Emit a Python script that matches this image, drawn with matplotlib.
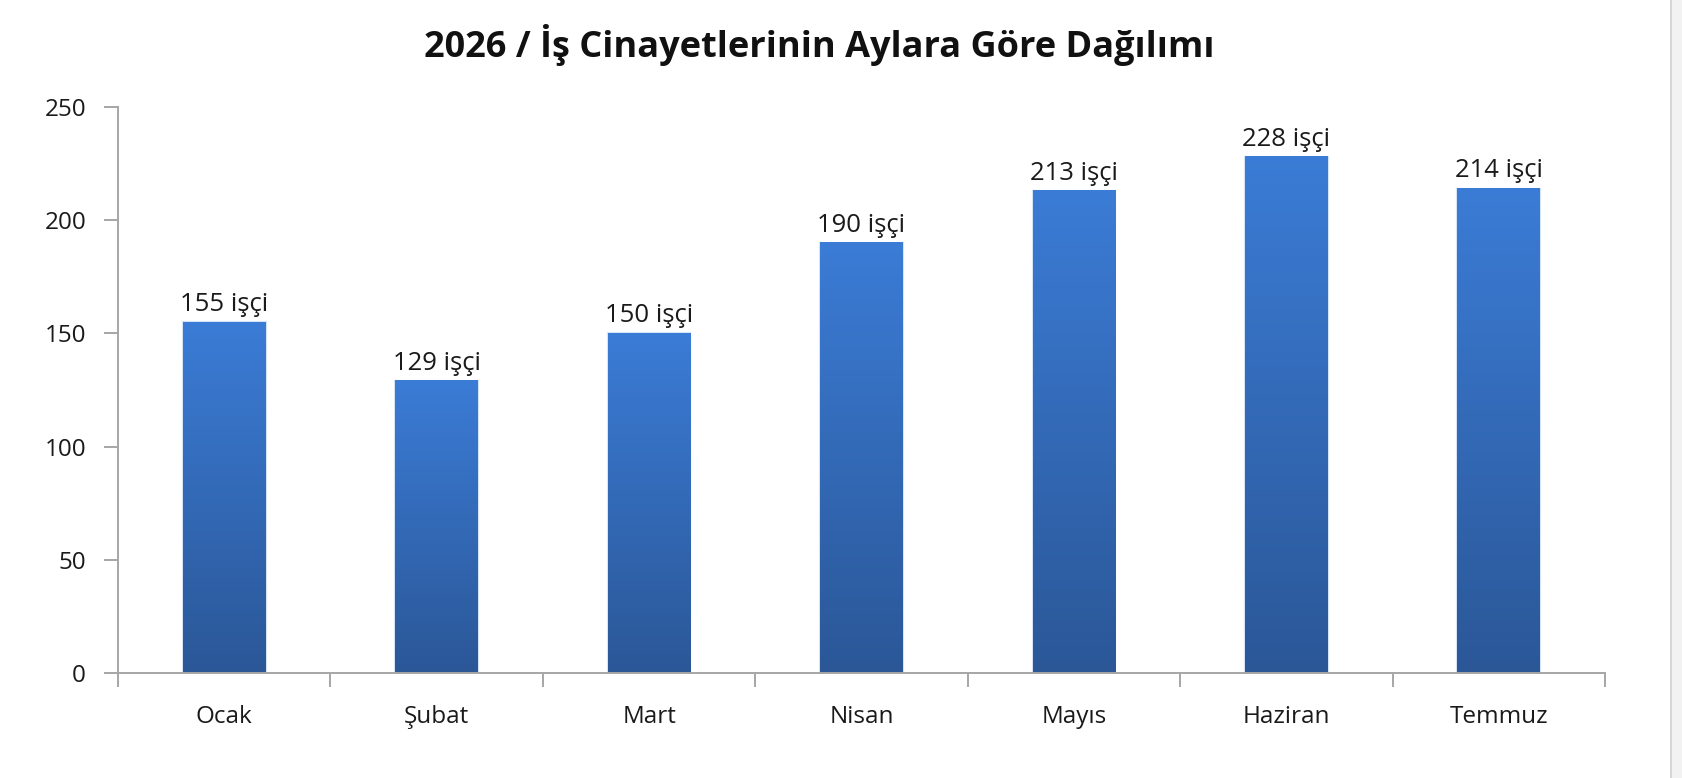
import numpy as np
import matplotlib
matplotlib.use("Agg")
import matplotlib.pyplot as plt
from matplotlib.colors import LinearSegmentedColormap
from matplotlib.lines import Line2D
from matplotlib.patches import Rectangle

plt.rcParams['font.family'] = ['Open Sans', 'DejaVu Sans']

# data
months = ["Ocak", "Şubat", "Mart", "Nisan", "Mayıs", "Haziran", "Temmuz"]
deaths = [155, 129, 150, 190, 213, 228, 214]
title = "2026 / İş Cinayetlerinin Aylara Göre Dağılımı"
unit = "işçi"

AXIS_GRAY = "#a6a6a6"
bar_cmap = LinearSegmentedColormap.from_list("bar", ["#2b5797", "#3b7cd6"])

fig = plt.figure(figsize=(16.82, 7.78), dpi=100)
ax = fig.add_axes([118 / 1682, 1 - 673 / 778, (1605 - 118) / 1682, (673 - 107) / 778])

x = np.arange(len(months))
width = 0.39
# gradient filled bars: dark at the bottom, light at the top
grad = np.linspace(0, 1, 256).reshape(-1, 1)
for xi, v in zip(x, deaths):
    ax.add_patch(Rectangle((xi - width / 2, 0), width, v, facecolor="none",
                           edgecolor="#d5e4f6", lw=1.6, zorder=1))
    ax.imshow(grad, extent=[xi - width / 2, xi + width / 2, 0, v], origin="lower",
              aspect="auto", cmap=bar_cmap, zorder=2)
    ax.annotate(f"{v} {unit}", (xi, v), xytext=(0, 8), textcoords="offset points",
                ha="center", va="baseline", fontsize=18.5, color="#1a1a1a")

ax.set_xlim(-0.5, len(months) - 0.5)
ax.set_ylim(0, 250)
ax.set_yticks(np.arange(0, 251, 50))

# category names centred under the bars, tick marks between categories
ax.set_xticks(x)
ax.set_xticklabels(months)
ax.set_xticks(np.arange(-0.5, len(months)), minor=True)
ax.tick_params(axis="x", which="major", length=0, pad=23, labelsize=17.5, labelcolor="#1a1a1a")
ax.tick_params(axis="x", which="minor", length=10, width=1.4, color=AXIS_GRAY, direction="out")
ax.tick_params(axis="y", length=10, width=1.4, color=AXIS_GRAY, pad=13,
               labelsize=17.5, labelcolor="#1a1a1a")

for s in ["top", "right"]:
    ax.spines[s].set_visible(False)
for s in ["left", "bottom"]:
    ax.spines[s].set_color(AXIS_GRAY)
    ax.spines[s].set_linewidth(1.4)

fig.text(0.487, 1 - 45 / 778, title, ha="center", va="center",
         fontsize=26, fontweight="bold", color="#111111")

# frame edge at the right of the picture
fig.patches.append(Rectangle((1671 / 1682, 0), 11 / 1682, 1, transform=fig.transFigure,
                             facecolor="#f2f2f2", edgecolor="none"))
fig.lines.append(Line2D([1671 / 1682] * 2, [0, 1], transform=fig.transFigure,
                        color="#d0d0d0", lw=1.2))

fig.savefig("out.png", dpi=100)
